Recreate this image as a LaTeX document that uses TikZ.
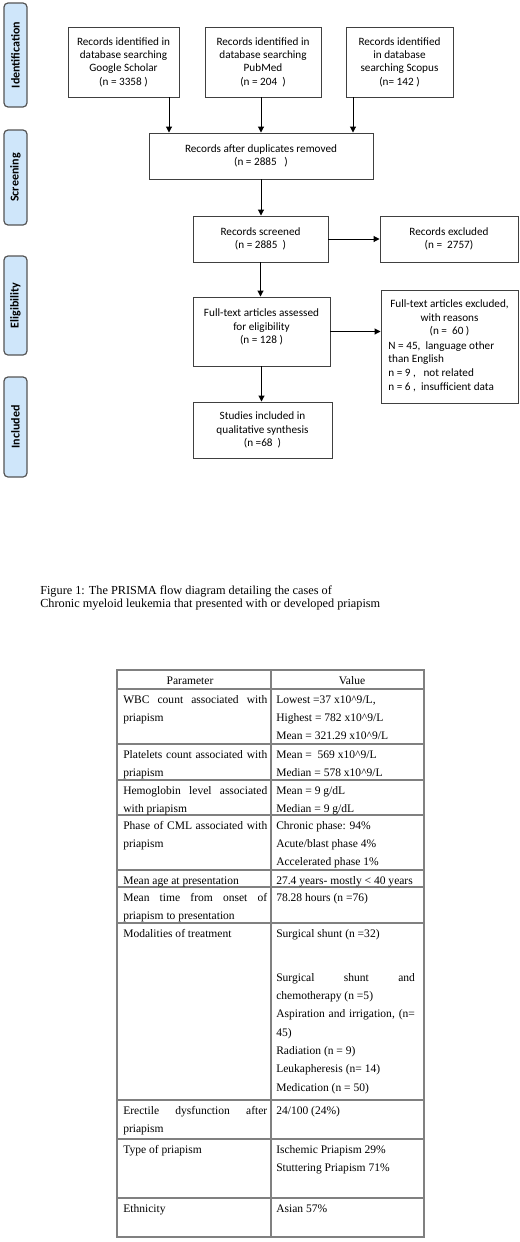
\documentclass[tikz,border=0pt]{standalone}
\usepackage{fontspec}
\setmainfont{Liberation Serif}
\newfontfamily\calfont{Carlito}
\usetikzlibrary{arrows.meta}
\definecolor{boxline}{RGB}{64,64,64}
\definecolor{sidefill}{RGB}{207,230,250}
\definecolor{sideline}{RGB}{85,85,85}
\definecolor{tabline}{RGB}{128,128,128}
\hbadness=10000 \hfuzz=8pt
\newcommand\cellstrut{\rule{0pt}{9pt}}
\begin{document}
\begin{tikzpicture}[x=0.75pt,y=-0.75pt,
 box/.style={draw=boxline,line width=0.7pt,inner sep=0pt,align=center,font=\calfont\fontsize{8.4}{10}\selectfont},
 side/.style={draw=sideline,line width=0.9pt,fill=sidefill,rounded corners=3pt,rotate=90,inner sep=0pt,minimum height=17.25pt,font=\calfont\bfseries\fontsize{9}{10}\selectfont},
 arr/.style={-{Triangle[length=4.5pt,width=4.5pt]},line width=0.75pt},
 tline/.style={draw=tabline,line width=1pt},
 cellL/.style={anchor=north west,inner sep=0pt,text width=108pt,align=justify,font=\fontsize{8.65}{13.725}\selectfont},
 cellR/.style={anchor=north west,inner sep=0pt,text width=104pt,align=justify,font=\fontsize{8.65}{13.725}\selectfont},
 head/.style={anchor=base,inner sep=0pt,font=\fontsize{8.65}{13.725}\selectfont},
 capt/.style={anchor=base west,inner sep=0pt,font=\fontsize{9.2}{10}\selectfont}
]
\useasboundingbox (0,0) rectangle (520,1242);

% side labels
\node[side,minimum width=78pt] (id) at (15.5,55) {Identification};
\node[side,minimum width=71.25pt] (sc) at (15.5,177.5) {Screening};
\node[side,minimum width=74.25pt] (el) at (15.5,305.5) {Eligibility};
\node[side,minimum width=75pt] (inc) at (15.5,427) {Included};

% flow boxes
\node[box,minimum width=83.25pt,minimum height=52.5pt] (g) at (123.5,62) {Records identified in\\database searching\\Google Scholar\\(n = 3358 )};
\node[box,minimum width=87pt,minimum height=52.5pt] (p) at (263,62) {Records identified in\\database searching\\PubMed\\(n = 204 \ )};
\node[box,minimum width=80.25pt,minimum height=52.5pt] (s) at (399.5,62) {Records identified\\in database\\searching Scopus\\(n= 142 )};
\node[box,minimum width=168pt,minimum height=34.5pt] (dup) at (261,156) {Records after duplicates removed\\(n = 2885 \ \ )};
\node[box,minimum width=101.25pt,minimum height=34.5pt] (scr) at (260.5,239) {Records screened\\(n = 2885 \ )};
\node[box,minimum width=103.5pt,minimum height=34.5pt] (exc) at (449,239) {Records excluded\\(n = \ 2757)};
\node[box,minimum width=102.75pt,minimum height=51.75pt] (ft) at (261.5,331.5) {};
\node[box,draw=none] (ftt) at (261.5,327) {Full-text articles assessed\\for eligibility\\(n = 128 )};
\node[box,minimum width=102.75pt,minimum height=84.75pt] (ftx) at (449.5,346.5) {};
\node[box,draw=none,font=\calfont\fontsize{8.4}{10.2}\selectfont] (ftx1) at (449.5,318) {Full-text articles excluded,\\with reasons\\(n = \ 60 )};
\node[box,draw=none,align=left,anchor=west,font=\calfont\fontsize{8.4}{10.2}\selectfont] (ftx2) at (388,366.5) {N = 45, \ language other\\than English\\n = 9 , \ \ not related\\n = 6 , \ insufficient data};
\node[box,minimum width=104.25pt,minimum height=42pt] (st) at (262.5,430) {Studies included in\\qualitative synthesis\\(n =68 \ )};

% connectors
\coordinate (xg) at (169,0);
\coordinate (xs) at (353,0);
\draw[arr] (g.south -| xg) -- (dup.north -| xg);
\draw[arr] (p.south -| dup.north) -- (dup.north);
\draw[arr] (s.south -| xs) -- (dup.north -| xs);
\draw[arr] (dup.south) -- (scr.north -| dup.south);
\draw[arr] (scr.east) -- (exc.west);
\draw[arr] (scr.south) -- (ft.north -| scr.south);
\draw[arr] (ft.east) -- (ft.east -| ftx.west);
\draw[arr] (ft.south) -- (st.north -| ft.south);

% caption
\node[capt] (cap1) at (40,594) {Figure 1: The PRISMA flow diagram detailing the cases of};
\node[capt] (cap2) at (40,607) {Chronic myeloid leukemia that presented with or developed priapism};

% table
\draw[tline] (117,670) rectangle (424,1237);
\draw[tline] (271,670) -- (271,1237);
\foreach \yy in {689,744,780,815,870,887,923,1100,1139,1198} \draw[tline] (117,\yy) -- (424,\yy);

\node[head] (h1) at (190,684) {Parameter};
\node[head] (h2) at (352,684) {Value};

\node[cellL] (l1) at (123,691) {\cellstrut WBC count associated with\linebreak priapism};
\node[cellR] (r1) at (276,691) {\cellstrut Lowest =37 x10\textasciicircum 9/L,\\Highest = 782 x10\textasciicircum 9/L\\Mean = 321.29 x10\textasciicircum 9/L};
\node[cellL] (l2) at (123,746) {\cellstrut Platelets count associated with\linebreak priapism};
\node[cellR] (r2) at (276,746) {\cellstrut Mean = \ 569 x10\textasciicircum 9/L\\Median = 578 x10\textasciicircum 9/L};
\node[cellL] (l3) at (123,782) {\cellstrut Hemoglobin level associated\linebreak with priapism};
\node[cellR] (r3) at (276,782) {\cellstrut Mean = 9 g/dL\\Median = 9 g/dL};
\node[cellL] (l4) at (123,817) {\cellstrut Phase of CML associated with\linebreak priapism};
\node[cellR] (r4) at (276,817) {\cellstrut Chronic phase: 94\%\\Acute/blast phase 4\%\\Accelerated phase 1\%};
\node[cellL] (l5) at (123,872) {\cellstrut Mean age at presentation};
\node[cellR] (r5) at (276,872) {\cellstrut 27.4 years- mostly < 40 years};
\node[cellL] (l6) at (123,889) {\cellstrut Mean time from onset of\linebreak priapism to presentation};
\node[cellR] (r6) at (276,889) {\cellstrut 78.28 hours (n =76)};
\node[cellL] (l7) at (123,925) {\cellstrut Modalities of treatment};
\node[cellR] (r7) at (276,925) {\cellstrut Surgical shunt (n =32)\\[19.3pt]Surgical shunt and\linebreak chemotherapy (n =5)\\Aspiration and irrigation, (n=\linebreak 45)\\Radiation (n = 9)\\Leukapheresis (n= 14)\\Medication (n = 50)};
\node[cellL] (l8) at (123,1102) {\cellstrut Erectile dysfunction after\linebreak priapism};
\node[cellR] (r8) at (276,1102) {\cellstrut 24/100 (24\%)};
\node[cellL] (l9) at (123,1141) {\cellstrut Type of priapism};
\node[cellR] (r9) at (276,1141) {\cellstrut Ischemic Priapism 29\%\\Stuttering Priapism 71\%};
\node[cellL] (l10) at (123,1200) {\cellstrut Ethnicity};
\node[cellR] (r10) at (276,1200) {\cellstrut Asian 57\%};
\end{tikzpicture}
\end{document}
